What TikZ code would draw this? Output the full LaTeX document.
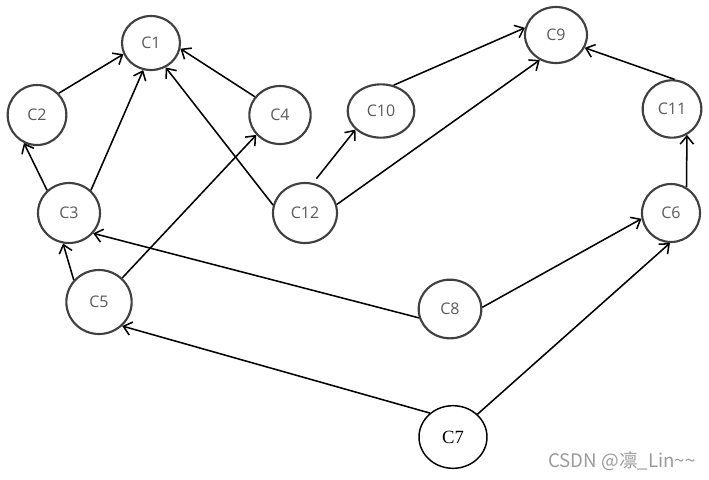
\documentclass[tikz,border=0pt]{standalone}
\usepackage{fontspec}
\setmainfont{Open Sans}
\newfontfamily\serifc{Liberation Serif}
\newfontfamily\cjkf{Noto Sans CJK SC}
\usetikzlibrary{shapes.geometric,arrows.meta}
\definecolor{nodeline}{HTML}{404040}
\definecolor{nodetext}{HTML}{5A5A5A}
\definecolor{wmark}{HTML}{9A9A9A}
\tikzset{
  cnode/.style={ellipse, draw=nodeline, line width=1.6pt, inner sep=0pt,
    text=nodetext, font=\fontsize{12}{14}\selectfont},
  snode/.style={ellipse, draw=black, line width=1.1pt, inner sep=0pt,
    text=black, font=\serifc\fontsize{14}{16}\selectfont},
  edge/.style={line width=1.15pt, draw=black, -{Straight Barb[length=6pt,width=10pt,line width=1.15pt]}},
}
\begin{document}
\begin{tikzpicture}[x=0.75pt,y=-0.75pt]
\useasboundingbox (0,0) rectangle (709,479);
\node[cnode, minimum width=43.5pt, minimum height=40.5pt] (c1) at (151,43) {C1};
\node[cnode, minimum width=44pt, minimum height=45pt] (c2) at (37,115) {C2};
\node[cnode, minimum width=46.5pt, minimum height=45pt] (c3) at (69,213) {C3};
\node[cnode, minimum width=46pt, minimum height=43.5pt] (c4) at (280,115) {C4};
\node[cnode, minimum width=49pt, minimum height=48pt] (c5) at (99,302) {C5};
\node[cnode, minimum width=43.5pt, minimum height=43.5pt] (c6) at (671,213) {C6};
\node[snode, minimum width=51pt, minimum height=47pt] (c7) at (453,437) {C7};
\node[cnode, minimum width=47pt, minimum height=44pt] (c8) at (450,309) {C8};
\node[cnode, minimum width=46.5pt, minimum height=42pt] (c9) at (556,35) {C9};
\node[cnode, minimum width=50pt, minimum height=40pt] (c10) at (381,111) {C10};
\node[cnode, minimum width=44pt, minimum height=43pt] (c11) at (672,109) {C11};
\node[cnode, minimum width=48pt, minimum height=45pt] (c12) at (305,213) {C12};

\draw[edge] (c2.45) -- (c1.202);
\draw[edge] (c3.134) -- (c2.245);
\draw[edge] (c3.46) -- (c1.254);
\draw[edge] (c4.144) -- (c1.349);
\draw[edge] (c12.166) -- (c1.301);
\draw[edge] (c5.46) -- (c4.220);
\draw[edge] (c5.139) -- (c3.259);
\draw[edge, shorten <=4pt] (c12.75) -- (c10.216);
\draw[edge] (c12.15) -- (c9.237);
\draw[edge] (c10.64) -- (c9.167);
\draw[edge] (c11.85) -- (c9.336);
\draw[edge] (c6.59) -- (c11.300);
\draw[edge] (c8.196) -- (c3.320);
\draw[edge] (c8.3) -- (c6.191);
\draw[edge] (c7.134) -- (c5.314);
\draw[edge] (c7.43) -- (c6.268);

\node[text=wmark, font=\cjkf\fontsize{14}{16}\selectfont, inner sep=0pt] (wm) at (622,461) {CSDN @凛\_Lin\textasciitilde\textasciitilde};
\end{tikzpicture}
\end{document}
